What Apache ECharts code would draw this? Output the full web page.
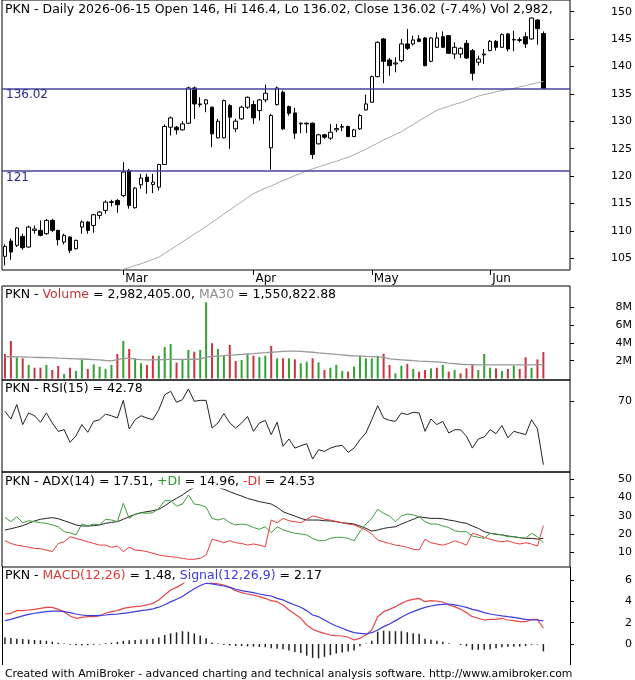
<!DOCTYPE html>
<html><head><meta charset="utf-8">
<script src="https://cdn.jsdelivr.net/npm/echarts@6/dist/echarts.min.js"></script>
<style>html,body{margin:0;padding:0;background:#fff}#c{width:635px;height:680px}</style>
</head><body><div id="c"></div>
<script>
// ---------- DATA ----------
const ticker = 'PKN';
const dates = [
'2026-02-02','2026-02-03','2026-02-04','2026-02-05','2026-02-06','2026-02-09','2026-02-10','2026-02-11','2026-02-12','2026-02-13',
'2026-02-16','2026-02-17','2026-02-18','2026-02-19','2026-02-20','2026-02-23','2026-02-24','2026-02-25','2026-02-26','2026-02-27',
'2026-03-02','2026-03-03','2026-03-04','2026-03-05','2026-03-06','2026-03-09','2026-03-10','2026-03-11','2026-03-12','2026-03-13',
'2026-03-16','2026-03-17','2026-03-18','2026-03-19','2026-03-20','2026-03-23','2026-03-24','2026-03-25','2026-03-26','2026-03-27',
'2026-03-30','2026-03-31','2026-04-01','2026-04-02','2026-04-07','2026-04-08','2026-04-09','2026-04-10','2026-04-13','2026-04-14',
'2026-04-15','2026-04-16','2026-04-17','2026-04-20','2026-04-21','2026-04-22','2026-04-23','2026-04-24','2026-04-27','2026-04-28',
'2026-04-29','2026-04-30','2026-05-04','2026-05-05','2026-05-06','2026-05-07','2026-05-08','2026-05-11','2026-05-12','2026-05-13',
'2026-05-14','2026-05-15','2026-05-18','2026-05-19','2026-05-20','2026-05-21','2026-05-22','2026-05-25','2026-05-26','2026-05-27',
'2026-05-28','2026-05-29','2026-06-01','2026-06-02','2026-06-03','2026-06-05','2026-06-08','2026-06-09','2026-06-10','2026-06-11',
'2026-06-12','2026-06-15'];
const monthNames = ['Jan','Feb','Mar','Apr','May','Jun','Jul','Aug','Sep','Oct','Nov','Dec'];

const open = [105.36,108.16,107.37,109.0,107.06,110.1,110.1,109.49,111.92,110.1,
107.97,108.88,106.76,110.7,111.62,111.0,112.83,113.74,115.2,115.56,
116.47,121.03,114.23,118.42,119.81,118.48,117.99,122.12,128.92,128.92,
128.44,129.65,136.09,133.17,133.17,132.57,126.98,126.98,132.87,128.62,
130.44,132.57,133.05,131.96,133.9,125.16,133.05,135.3,132.69,131.53,
129.53,129.65,129.65,125.89,127.53,126.92,128.44,128.92,129.05,127.22,
128.62,132.08,133.48,138.15,145.02,141.19,140.46,141.07,144.11,144.11,
145.02,145.2,140.95,143.5,145.44,145.62,142.28,142.28,144.23,142.89,
140.77,142.1,142.89,144.59,143.5,145.93,144.83,144.89,145.44,145.02,
148.48,146];
const high = [107.55,108.6,110.7,109.49,110.95,111.0,111.92,112.16,112.2,110.2,
109.49,109.0,108.4,111.92,111.8,113.13,113.62,115.56,115.68,115.8,
122.55,121.33,117.99,120.42,120.42,120.42,122.24,129.41,130.87,129.17,
130.02,136.33,136.33,134.39,134.08,132.69,130.44,133.96,133.17,130.44,
132.87,134.51,133.78,134.08,136.7,131.35,136.33,135.6,132.87,132.45,
129.77,129.77,129.77,127.71,127.71,129.53,129.53,129.53,129.23,128.62,
131.35,134.87,138.34,144.59,145.2,141.55,141.68,145.02,146.84,145.62,
145.74,145.32,145.32,146.23,146.41,145.74,144.41,143.5,144.83,143.19,
141.98,143.19,144.83,144.83,146.05,146.11,146.53,145.32,146.23,148.96,
148.66,146.4];
const low = [103.72,104.75,107.06,106.58,106.94,109.49,109.0,109.3,109.8,107.37,
107.55,105.97,106.6,109.49,109.49,109.67,112.2,113.13,114.47,113.32,
116.17,114.05,114.05,117.69,116.78,116.9,117.39,122.0,127.41,127.59,
128.32,129.53,130.44,132.57,131.66,125.28,126.9,126.9,124.98,128.01,
130.26,132.26,129.53,130.14,133.48,121.15,132.87,128.44,131.05,126.8,
127.83,127.83,123.15,125.77,126.8,126.62,128.01,128.19,127.1,127.1,
128.44,131.96,133.4,138.03,136.94,138.34,138.94,140.77,143.01,143.8,
144.41,140.04,140.77,143.38,143.38,142.28,141.37,141.55,141.37,137.43,
140.16,140.46,142.77,142.89,143.38,142.77,142.77,144.41,143.38,144.89,
143.98,136.02];
const close = [107.18,106.15,110.52,106.94,110.7,110.34,109.19,111.92,110.1,108.4,
109.19,106.46,108.28,111.62,110.1,112.95,113.44,115.26,115.32,114.77,
120.73,114.65,117.81,119.63,119.02,118.9,122.12,129.05,130.62,128.44,
129.53,136.09,133.17,133.05,133.9,127.71,130.02,133.78,130.75,130.02,
132.57,134.39,130.62,133.9,135.12,131.05,136.09,128.62,131.47,127.83,
129.65,129.53,123.94,127.53,127.1,128.01,128.68,129.05,127.22,128.44,
131.05,133.17,138.15,144.41,140.95,140.16,140.64,144.11,143.32,144.83,
144.59,140.16,145.2,145.2,143.5,142.41,143.5,143.32,141.55,138.76,
141.37,142.28,144.59,143.5,145.81,143.19,144.96,144.77,144.11,148.84,
146.9,136.02];
const priceMA = [null,null,null,null,null,null,null,null,null,null,
null,null,null,null,null,null,null,null,102.3,102.6,
103.0,103.3,103.7,104.0,104.4,104.8,105.2,105.9,106.6,107.3,
108.0,108.7,109.4,110.1,110.8,111.6,112.3,113.1,113.8,114.6,
115.3,116.1,116.8,117.3,117.8,118.2,118.7,119.2,119.6,120.1,
120.5,121.0,121.3,121.7,122.0,122.4,122.7,123.1,123.4,123.9,
124.4,124.9,125.5,126.0,126.6,127.1,127.6,128.1,128.8,129.4,
130.1,130.7,131.4,132.0,132.4,132.7,133.1,133.4,133.8,134.2,
134.6,134.9,135.1,135.4,135.6,135.8,136.0,136.3,136.5,136.8,
137.0,137.3];
const levels = [136.02, 121];
const priceTicks = [105,110,115,120,125,130,135,140,145,150];

// volume in millions
const volume = [2.75,4.21,2.38,2.27,1.52,1.21,1.21,1.52,0.96,1.40,
0.5,1.21,0.84,2.08,1.07,1.59,1.33,1.07,1.52,2.75,
4.21,3.31,2.27,1.71,1.52,2.56,2.56,3.54,3.88,1.78,
2.08,3.2,3.01,3.2,8.56,3.96,3.31,2.56,3.76,1.97,
2.08,2.72,2.56,2.42,2.56,3.65,2.27,2.27,2.27,2.15,
1.71,1.89,2.27,1.82,0.96,1.21,1.52,0.84,0.77,1.33,
2.56,2.27,2.27,2.56,2.79,1.52,0.58,1.44,1.64,1.07,
0.77,0.96,1.14,1.21,1.52,0.77,0.96,0.58,1.14,1.52,
0.96,2.75,1.21,1.14,0.84,1.07,1.44,1.07,2.38,1.21,
2.15,2.982405];
const volumeUp = [0,0,1,0,1,0,0,1,0,0,
1,0,1,1,0,1,1,1,1,0,
1,0,1,1,0,0,1,1,1,0,
1,1,0,1,1,0,1,1,0,0,
1,1,0,1,1,0,1,0,1,0,
1,1,0,1,0,1,1,1,0,1,
1,1,1,1,0,0,1,1,0,1,
0,0,1,0,1,0,1,0,0,0,
1,1,1,0,1,0,1,0,0,1,
0,0];
const volumeMA30 = [2.45,2.44,2.43,2.42,2.39,2.38,2.36,2.34,2.31,2.28,
2.27,2.24,2.21,2.19,2.16,2.12,2.08,2.02,1.98,2.12,
2.25,2.25,2.18,2.12,2.1,2.1,2.12,2.13,2.14,2.14,
2.14,2.15,2.16,2.17,2.4,2.47,2.52,2.56,2.62,2.66,
2.7,2.75,2.8,2.86,2.9,2.95,3.0,3.05,3.07,3.08,
3.05,3.0,2.95,2.88,2.82,2.76,2.7,2.65,2.58,2.55,
2.52,2.48,2.45,2.42,2.38,2.2,2.15,2.1,2.05,2.0,
1.96,1.93,1.9,1.86,1.8,1.72,1.66,1.6,1.57,1.55,
1.53,1.52,1.52,1.52,1.52,1.53,1.53,1.53,1.54,1.54,
1.55,1.550823];
const volumeTicks = [2,4,6,8];

const rsi = [65.7,62.4,68.6,60.0,65.0,63.8,61.0,65.0,60.7,57.1,
57.8,52.4,55.2,60.0,56.7,61.4,62.1,64.5,63.8,62.8,
70.4,58.1,62.1,63.8,62.8,62.1,66.4,72.8,74.3,69.6,
70.7,75.3,70.0,70.4,70.4,58.5,60.7,64.7,60.7,58.5,
60.7,63.5,57.1,60.7,61.8,55.7,61.0,50.7,53.8,49.9,
50.9,51.8,45.2,49.2,48.5,49.9,50.7,51.1,48.1,49.9,
53.5,56.4,62.1,68.1,62.8,61.8,61.4,65.0,64.3,65.3,
65.0,57.1,62.4,60.0,61.4,56.4,57.8,57.8,55.0,49.9,
53.8,54.7,57.8,56.1,59.6,54.3,57.1,56.4,55.7,62.1,
58.1,42.78];
const rsiTicks = [70];

const adx = [22.1,22.8,23.6,24.5,25.8,27.1,28.0,28.5,28.9,28.3,
27.2,26.1,24.9,24.3,24.3,24.5,24.9,25.8,26.3,26.7,
28.0,29.4,30.7,31.6,32.2,32.7,33.5,35.3,37.7,39.5,
41.4,43.7,45.6,46.3,46.7,46.5,45.6,44.5,43.2,41.9,
40.8,39.5,38.6,37.7,37.1,36.4,34.6,32.2,30.9,29.8,
28.5,27.6,27.6,27.6,27.2,27.1,26.7,26.1,25.8,25.4,
24.3,23.0,21.5,22.1,23.0,23.5,23.9,25.4,26.7,28.0,
29.4,28.9,28.5,28.5,28.3,27.6,27.1,26.3,25.8,24.3,
23.0,21.2,20.3,19.7,19.4,18.8,18.4,17.9,17.5,17.5,
17.1,17.51];
const plusDI = [29.1,26.7,29.4,26.1,27.2,26.7,26.1,25.8,24.9,23.9,
21.2,20.6,19.4,25.4,24.3,25.4,24.9,28.0,27.6,26.7,
36.8,28.5,30.9,31.6,31.3,31.6,34.0,38.2,38.2,35.3,
36.4,41.4,36.4,35.9,34.6,28.5,27.6,28.5,26.1,24.9,
25.4,24.9,23.5,22.5,23.9,20.6,23.9,22.1,21.2,20.3,
19.9,19.4,17.5,16.2,16.2,17.5,18.1,18.1,17.5,16.2,
21.2,25.4,28.5,33.5,31.3,29.8,26.7,29.8,30.9,30.4,
29.4,26.7,25.4,25.4,24.3,23.5,21.7,21.2,21.2,18.8,
18.1,17.5,20.3,19.9,19.4,18.4,18.4,17.9,17.5,20.3,
18.4,14.96];
const minusDI = [16.2,14.7,13.8,13.3,12.6,12.0,11.8,11.1,10.2,14.7,
15.6,18.4,17.5,16.6,15.6,14.7,13.8,13.8,12.6,13.3,
10.2,12.6,11.1,10.8,10.2,9.3,8.4,7.8,7.4,7.1,
6.5,6.0,6.0,6.5,8.4,17.0,16.2,15.1,16.2,15.1,
14.7,13.8,14.4,13.8,12.9,27.6,26.1,28.5,27.2,26.7,
26.1,28.0,29.8,29.1,28.0,27.6,26.7,26.1,25.4,24.9,
23.5,22.1,19.9,16.6,15.6,14.7,13.8,13.3,12.6,11.5,
11.1,17.0,15.1,14.4,13.8,14.7,16.2,15.1,13.8,20.3,
19.4,18.1,17.0,16.2,15.6,16.2,15.1,14.4,15.1,14.4,
13.3,24.53];
const adxTicks = [10,20,30,40,50];

const macd = [2.81,2.88,3.13,3.13,3.19,3.25,3.34,3.44,3.44,3.25,
3.03,2.63,2.41,2.5,2.56,2.56,2.63,2.88,3.03,3.13,
3.34,3.44,3.5,3.56,3.66,3.81,4.13,4.59,5.06,5.31,
5.63,6.16,6.38,6.38,6.25,5.69,5.63,5.53,5.31,5.0,
4.81,4.69,4.59,4.44,4.28,4.06,3.97,3.66,3.19,2.81,
2.41,1.78,1.38,1.16,1.0,0.84,0.78,0.75,0.63,0.38,
0.53,0.84,1.31,2.56,3.03,3.25,3.5,3.81,4.06,4.19,
4.28,3.97,4.06,4.03,3.94,3.66,3.5,3.25,2.94,2.56,
2.41,2.25,2.31,2.31,2.41,2.25,2.19,2.09,2.09,2.31,
2.31,1.48];
const signal = [2.19,2.31,2.47,2.63,2.78,2.88,2.97,3.03,3.09,3.09,
3.03,2.94,2.81,2.72,2.66,2.66,2.69,2.72,2.78,2.81,
2.88,2.94,3.03,3.13,3.2,3.3,3.45,3.68,3.95,4.2,
4.45,4.82,5.18,5.48,5.7,5.63,5.53,5.44,5.31,5.13,
5.0,4.91,4.81,4.69,4.59,4.5,4.28,4.13,3.88,3.66,
3.44,3.13,2.72,2.56,2.25,1.94,1.69,1.47,1.25,1.06,
1.0,0.94,1.06,1.31,1.63,1.88,2.19,2.5,2.81,3.03,
3.25,3.44,3.56,3.66,3.72,3.75,3.66,3.56,3.44,3.25,
3.13,2.94,2.81,2.72,2.63,2.56,2.5,2.41,2.31,2.25,
2.25,2.17];
const macdHist = [0.6,0.57,0.5,0.47,0.42,0.38,0.35,0.3,0.22,0.12,
0.05,-0.06,-0.12,-0.15,-0.12,-0.08,-0.05,0.08,0.12,0.2,
0.3,0.35,0.38,0.42,0.45,0.5,0.6,0.85,1.0,1.1,
1.2,1.15,1.0,0.8,0.55,0.15,0.05,-0.1,-0.15,-0.18,
-0.2,-0.22,-0.25,-0.28,-0.3,-0.4,-0.45,-0.5,-0.6,-0.75,
-0.85,-1.1,-1.3,-1.35,-1.2,-1.05,-0.9,-0.8,-0.7,-0.6,
-0.2,0.05,0.3,1.15,1.25,1.2,1.2,1.2,1.1,1.0,
0.95,0.5,0.4,0.3,0.2,0.06,0.0,-0.1,-0.2,-0.55,
-0.55,-0.55,-0.5,-0.4,-0.3,-0.25,-0.25,-0.25,-0.2,-0.08,
-0.05,-0.69];
const macdTicks = [0,2,4,6];

const lastInfo = {date:'2026-06-15', open:'146', hi:'146.4', lo:'136.02', close:'136.02', chg:'-7.4%',
  vol:'2,982,405', volFull:'2,982,405.00', volMA:'1,550,822.88', rsi:'42.78', adx:'17.51', pdi:'14.96', mdi:'24.53', macd:'1.48', sig:'2.17'};

// ---------- LAYOUT ----------
const FONT = '"DejaVu Sans", Verdana, sans-serif';
const HF = '12.5px ' + FONT;
const L = 2, R = 65;
const panes = [
  {top:-1, height:271, min:102.87, max:152.13},
  {top:286, height:94, min:-0.17, max:10.39},
  {top:380, height:92, min:39.64, max:79.15},
  {top:472, height:95, min:1.75, max:54.02},
  {top:567, height:98, min:-1.97, max:7.22}
];
const tickSets = [priceTicks, volumeTicks, rsiTicks, adxTicks, macdTicks];
const cats = dates.concat(['_p1','_p2','_p3','_p4']);
const isMonthStart = (idx) => idx > 0 && idx < dates.length && dates[idx].slice(5,7) !== dates[idx-1].slice(5,7);

const GREEN = '#33a033', RED = '#cc3340';

const grids = panes.map((p,i)=>({left:L, right:R, top:p.top, height:p.height,
  show: i !== 4, borderColor:'#000', borderWidth:1, backgroundColor:'transparent'}));

const xAxes = panes.map((p,i)=>({
  type:'category', gridIndex:i, data:cats, boundaryGap:true, show: i===0,
  axisLine:{show:false},
  splitLine:{show:false},
  axisTick:{show:i===0, interval:isMonthStart, alignWithLabel:true, length:5, lineStyle:{color:'#000', width:1}},
  axisLabel:{show:i===0, interval:isMonthStart, align:'left', margin:3, padding:[0,0,0,2],
    color:'#000', fontFamily:FONT, fontSize:12,
    formatter:(v)=> v.startsWith('_') ? '' : monthNames[parseInt(v.slice(5,7),10)-1]}
}));

const yAxes = panes.map((p,i)=>({
  type:'value', gridIndex:i, position:'right', min:p.min, max:p.max,
  axisLine:{show:false}, splitLine:{show:false},
  axisTick:{show:true, inside:false, length:4, lineStyle:{color:'#000'}, customValues:tickSets[i]},
  axisLabel:{show:true, customValues:tickSets[i], align:'right', margin:62, color:'#000',
    fontFamily:FONT, fontSize:11, formatter:(v)=> i===1 ? (v + 'M') : String(v)}
}));

const candleData = dates.map((d,i)=>[open[i], close[i], low[i], high[i]]);
const volData = volume.map((v,i)=>({value:v, itemStyle:{color: volumeUp[i] ? GREEN : RED}}));

function txt(y, rich, parts, extra){
  const richObj = {};
  Object.keys(rich).forEach(k=>{ richObj[k] = {fill:rich[k], font:HF}; });
  return {type:'text', x:5, y:y, z:100, silent:true,
    style:Object.assign({text:parts, rich:richObj, font:HF, fill:'#000',
      verticalAlign:'middle', backgroundColor:'#fff'}, extra||{})};
}

const graphics = [
  txt(10, {a:'#000'}, `{a|${ticker} - Daily ${lastInfo.date} Open ${lastInfo.open}, Hi ${lastInfo.hi}, Lo ${lastInfo.lo}, Close ${lastInfo.close} (${lastInfo.chg}) Vol ${lastInfo.vol}}`,
    {width:555, overflow:'truncate', ellipsis:''}),
  txt(295, {a:'#000', r:'#c83232', g:'#8c8c8c'}, `{a|${ticker} - }{r|Volume}{a| = ${lastInfo.volFull}, }{g|MA30}{a| = ${lastInfo.volMA}}`),
  txt(389, {a:'#000'}, `{a|${ticker} - RSI(15) = ${lastInfo.rsi}}`),
  txt(482, {a:'#000', g:'#2a9a2a', r:'#e03030'}, `{a|${ticker} - ADX(14) = ${lastInfo.adx}, }{g|+DI}{a| = ${lastInfo.pdi}, }{r|-DI}{a| = ${lastInfo.mdi}}`),
  txt(576, {a:'#000', r:'#e03a3a', b:'#3a3ad8'}, `{a|${ticker} - }{r|MACD(12,26)}{a| = ${lastInfo.macd}, }{b|Signal(12,26,9)}{a| = ${lastInfo.sig}}`),
  {type:'text', x:5, y:674, z:100, silent:true, style:{text:'Created with AmiBroker - advanced charting and technical analysis software. http://www.amibroker.com',
    font:'10.9px ' + FONT, fill:'#000', verticalAlign:'middle'}},
  {type:'line', z:100, silent:true, shape:{x1:2.5, y1:567, x2:2.5, y2:665}, style:{stroke:'#000', lineWidth:1}},
  {type:'line', z:100, silent:true, shape:{x1:570.5, y1:567, x2:570.5, y2:665}, style:{stroke:'#000', lineWidth:1}}
];

const lineS = (xi, data, color, w) => ({type:'line', xAxisIndex:xi, yAxisIndex:xi, data, symbol:'none',
  lineStyle:{color, width:w||1}, itemStyle:{color}, clip:true, silent:true});

const option = {
  animation:false,
  backgroundColor:'#fff',
  grid:grids, xAxis:xAxes, yAxis:yAxes,
  graphic:graphics,
  series:[
    lineS(0, priceMA, '#a8a8a8', 1),
    {type:'candlestick', xAxisIndex:0, yAxisIndex:0, data:candleData, barWidth:4, silent:true,
      itemStyle:{color:'#fff', color0:'#000', borderColor:'#000', borderColor0:'#000', borderWidth:1},
      markLine:{silent:true, symbol:['none','none'], animation:false,
        lineStyle:{color:'#45459c', width:1.5, type:'solid'},
        label:{show:true, position:'insideStartBottom', formatter:(p)=>String(p.value), color:'#2a2a88', fontFamily:FONT, fontSize:12, distance:[4,1]},
        data: levels.map(v=>({yAxis:v}))}},
    {type:'bar', xAxisIndex:1, yAxisIndex:1, data:volData, barWidth:2, silent:true},
    lineS(1, volumeMA30, '#999', 1.3),
    lineS(2, rsi, '#222', 1),
    lineS(3, adx, '#222', 1),
    lineS(3, plusDI, '#3c9c3c', 1),
    lineS(3, minusDI, '#e83c3c', 1),
    lineS(4, macd, '#e84646', 1.2),
    lineS(4, signal, '#3c3ce0', 1.2),
    {type:'bar', xAxisIndex:4, yAxisIndex:4, data:macdHist, barWidth:1.5, silent:true, itemStyle:{color:'#222'}}
  ]
};
const chart = echarts.init(document.getElementById('c'), null, {renderer:'canvas'});
chart.setOption(option);
</script></body></html>
